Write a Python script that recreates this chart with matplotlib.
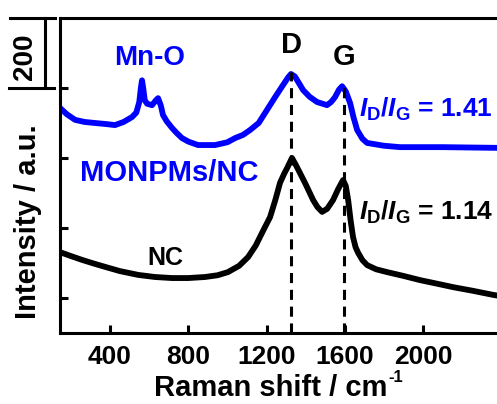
import matplotlib
matplotlib.use("Agg")
import matplotlib.pyplot as plt
from matplotlib.transforms import blended_transform_factory

plt.rcParams['font.family'] = ['Liberation Sans', 'DejaVu Sans']
plt.rcParams['font.weight'] = 'bold'
plt.rcParams['mathtext.fontset'] = 'custom'
plt.rcParams['mathtext.rm'] = 'Liberation Sans:bold'
plt.rcParams['mathtext.bf'] = 'Liberation Sans:bold'
plt.rcParams['mathtext.it'] = 'Liberation Sans:italic:bold'

# MONPMs/NC spectrum (blue), offset upwards
shift_monpm = [145, 180, 222, 270, 324, 380, 426, 470, 513, 535, 550, 558, 564,
               570, 578, 590, 615, 635, 646, 660, 671, 690, 717, 740, 768, 800,
               850, 937, 1000, 1040, 1080, 1116, 1160, 1202, 1245, 1285, 1310,
               1325, 1345, 1387, 1420, 1458, 1509, 1530, 1550, 1570, 1586, 1605,
               1627, 1645, 1663, 1690, 1714, 1800, 1882, 2100, 2378, 2420]
int_monpm = [643, 625, 609, 603, 600, 597, 594, 603, 617, 630, 660, 700, 722,
             700, 665, 655, 651, 665, 671, 650, 623, 605, 586, 572, 557, 547,
             537, 537, 545, 557, 566, 580, 600, 637, 675, 709, 730,
             740, 733, 694, 675, 660, 651, 660, 674, 695, 705, 690,
             657, 615, 580, 555, 543, 535, 531, 531, 529, 529]

# NC spectrum (black)
shift_nc = [145, 200, 257, 320, 375, 450, 544, 630, 717, 800, 886, 950, 1003,
            1060, 1106, 1145, 1177, 1218, 1245, 1269, 1290, 1305, 1330, 1350,
            1371, 1400, 1438, 1460, 1484, 1510, 1540, 1565, 1591, 1605, 1617,
            1630, 1642, 1655, 1668, 1690, 1714, 1760, 1816, 1900, 1985, 2070,
            2153, 2250, 2357, 2420]
int_nc = [231, 220, 209, 198, 189, 177, 166, 160, 157, 157, 160, 165, 174,
          192, 217, 250, 286, 331, 380, 429, 455, 471, 500, 480,
          457, 425, 380, 360, 346, 355, 380, 410, 437, 420, 380,
          320, 274, 245, 229, 208, 194, 182, 174, 163, 151, 141,
          131, 121, 109, 103]

peak_names = ['D', 'G']
peak_pos = [1326, 1594]
peak_tops = [746, 717]
ratios = ['1.41', '1.14']
scale_bar = 200

fig = plt.figure(figsize=(4.97, 4.04), dpi=100)
ax = fig.add_axes([60 / 497, 71 / 404, 461 / 497, 315 / 404])

ax.plot(shift_monpm, int_monpm, color='#0000ff', lw=4.2,
        solid_joinstyle='round', solid_capstyle='round')
ax.plot(shift_nc, int_nc, color='black', lw=4.2,
        solid_joinstyle='round', solid_capstyle='round')
ax.vlines(peak_pos, 0, peak_tops, colors='black', lw=2.2,
          linestyles=(0, (3.3, 2.2)))

ax.set_xlim(145, 2500)
ax.set_ylim(0, 900)
ax.set_xticks([400, 800, 1200, 1600, 2000])
ax.set_yticks([100, 300, 500, 700])
ax.set_yticklabels([])
ax.tick_params(direction='in', length=6, width=2.2, labelsize=19, pad=9,
               top=False, right=False)
for s in ax.spines.values():
    s.set_linewidth(2.2)

# labels on the spectra
ax.text(605, 786, 'Mn-O', color='#0000ff', fontsize=20, ha='center', va='center')
for name, pos, y in zip(peak_names, peak_pos, [823, 789]):
    ax.text(pos, y, name, fontsize=21, ha='center', va='center')
ax.text(702, 457, 'MONPMs/NC', color='#0000ff', fontsize=21, ha='center', va='center')
ax.text(682, 214, 'NC', fontsize=18, ha='center', va='center')
ax.text(1672, 617, r'$I_{\rm D}/I_{\rm G}$ = ' + ratios[0], color='#0000ff',
        fontsize=19, ha='left', va='baseline')
ax.text(1672, 323, r'$I_{\rm D}/I_{\rm G}$ = ' + ratios[1], color='black',
        fontsize=19, ha='left', va='baseline')

# scale bar left of the axes
tr = blended_transform_factory(fig.transFigure, ax.transData)
top = ax.get_ylim()[1]
ax.plot([45 / 497, 45 / 497], [top - scale_bar, top], color='black', lw=2.2,
        transform=tr, clip_on=False)
ax.plot([10 / 497, 55 / 497], [top, top], color='black', lw=2.2,
        transform=tr, clip_on=False)
ax.plot([9 / 497, 54 / 497], [top - scale_bar, top - scale_bar], color='black',
        lw=2.2, transform=tr, clip_on=False)
fig.text(25 / 497, 1 - 57 / 404, str(scale_bar), fontsize=20, rotation=90,
         ha='center', va='center')

fig.text(271 / 497, 1 - 388 / 404, 'Raman shift / cm', fontsize=21,
         ha='center', va='center')
fig.text(388 / 497, 1 - 377 / 404, '-1', fontsize=12, ha='left', va='center')
fig.text(28 / 497, 1 - 222 / 404, 'Intensity / a.u.', fontsize=21, rotation=90,
         ha='center', va='center')

fig.savefig('out.png', dpi=100)
